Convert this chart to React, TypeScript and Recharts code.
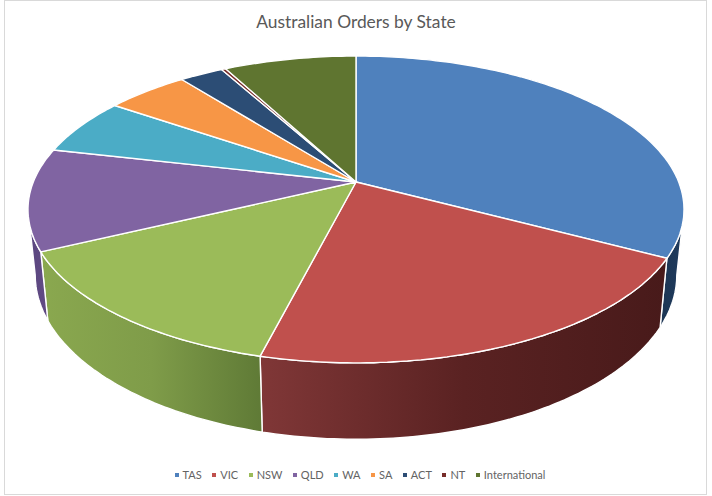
import React from "react";
import { PieChart, Pie, Legend } from "recharts";

const states = ["TAS", "VIC", "NSW", "QLD", "WA", "SA", "ACT", "NT", "International"];
const orderShare = [32.8, 21.15, 13.9, 10.75, 6.0, 4.84, 2.56, 0.25, 7.75];
const faceColors = ["#4F81BD", "#C0504D", "#9BBB59", "#8064A2", "#4BACC6", "#F79646", "#2C4D75", "#772C2A", "#5F7530"];

// wall shading, left to right
const wallShades: Record<string, string[]> = {
  TAS: ["#1c3553", "#1f3b5e"],
  VIC: ["#803737", "#5a2222", "#481a1a"],
  NSW: ["#8aa84f", "#7f9c49", "#5f7a36"],
  QLD: ["#5a4680", "#614b84"],
};

const tableData = states.map((name, i) => ({ name, value: orderShare[i], fill: faceColors[i] }));

// the tilted disc: perspective + horizontal stretch of the round pie
const TILT = 0.179;
const STRETCH = 2.173;
// rim at the bottom of the disc, relative to the top rim
const BASE_X = 0.978;
const BASE_Y = 1.07;
const BASE_DROP = 63.7;

function project(cx: number, cy: number, r: number, deg: number) {
  const a = (deg * Math.PI) / 180;
  const u = Math.cos(a);
  const v = -Math.sin(a);
  const w = 1 - TILT * v;
  return { x: cx + (r * STRETCH * u) / w, y: cy + (r * v) / w };
}

function arc(cx: number, cy: number, r: number, from: number, to: number) {
  const n = Math.max(2, Math.ceil(Math.abs(from - to)));
  const pts = [];
  for (let i = 0; i <= n; i++) pts.push(project(cx, cy, r, from + ((to - from) * i) / n));
  return pts;
}

const toPath = (pts: { x: number; y: number }[]) =>
  pts.map((p, i) => `${i ? "L" : "M"}${p.x.toFixed(1)} ${p.y.toFixed(1)}`).join(" ") + " Z";

function DiscSlice(props: any) {
  const { cx, cy, outerRadius, startAngle, endAngle, fill, name, index } = props;
  const top = arc(cx, cy, outerRadius, startAngle, endAngle);

  // only the front part of the rim shows a wall (library angles: 0 = right, -90 = bottom)
  const wallFrom = Math.min(startAngle, -10.3);
  const wallTo = Math.max(endAngle, -169.7);
  let wall = null;
  if (wallFrom > wallTo) {
    const upper = arc(cx, cy, outerRadius, wallFrom, wallTo);
    const lower = upper
      .map((p) => ({ x: cx + BASE_X * (p.x - cx), y: cy + BASE_DROP + BASE_Y * (p.y - cy) }))
      .reverse();
    const shades = wallShades[name] || [fill, fill];
    const id = `wall-${index}`;
    wall = (
      <g>
        <defs>
          <linearGradient id={id} x1="0" y1="0" x2="1" y2="0">
            {shades.map((c, i) => (
              <stop key={c} offset={i / (shades.length - 1)} stopColor={c} />
            ))}
          </linearGradient>
        </defs>
        <path d={toPath([...upper, ...lower])} fill={`url(#${id})`} stroke="#fff" strokeWidth={1.4} strokeLinejoin="round" />
      </g>
    );
  }

  return (
    <g>
      {wall}
      <path d={toPath([{ x: cx, y: cy }, ...top])} fill={fill} stroke="#fff" strokeWidth={1.4} strokeLinejoin="round" />
    </g>
  );
}

function LegendRow({ payload }: any) {
  return (
    <div
      style={{
        display: "flex",
        justifyContent: "center",
        gap: 10.5,
        marginLeft: 8,
        fontFamily: "Lato",
        fontSize: 11,
        color: "#636363",
      }}
    >
      {(payload || []).map((entry: any) => (
        <span key={entry.value} style={{ display: "flex", alignItems: "center", gap: 4 }}>
          <i style={{ width: 4, height: 4, background: entry.color, display: "block" }} />
          {entry.value}
        </span>
      ))}
    </div>
  );
}

export default function App() {
  return (
    <div style={{ position: "absolute", left: 0, top: 0, width: 712, height: 496, background: "#fff", overflow: "hidden" }}>
      <div style={{ position: "absolute", left: 4, top: 0, width: 703, height: 495, boxSizing: "border-box", border: "1.5px solid #d9d9d9" }} />
      <div
        style={{
          position: "absolute",
          top: 11,
          left: 0,
          width: 712,
          textAlign: "center",
          fontFamily: "Lato",
          fontSize: 17.4,
          color: "#595959",
        }}
      >
        Australian Orders by State
      </div>
      <PieChart width={712} height={496} margin={{ top: 0, right: 0, bottom: 0, left: 0 }} style={{ position: "absolute", left: 0, top: 0 }}>
        <Pie
          data={tableData}
          dataKey="value"
          nameKey="name"
          cx={356}
          cy={182}
          outerRadius={148.5}
          startAngle={90}
          endAngle={-270}
          shape={DiscSlice}
          isAnimationActive={false}
        />
        <Legend content={LegendRow} itemSorter={null} verticalAlign="bottom" wrapperStyle={{ bottom: 15 }} />
      </PieChart>
    </div>
  );
}
